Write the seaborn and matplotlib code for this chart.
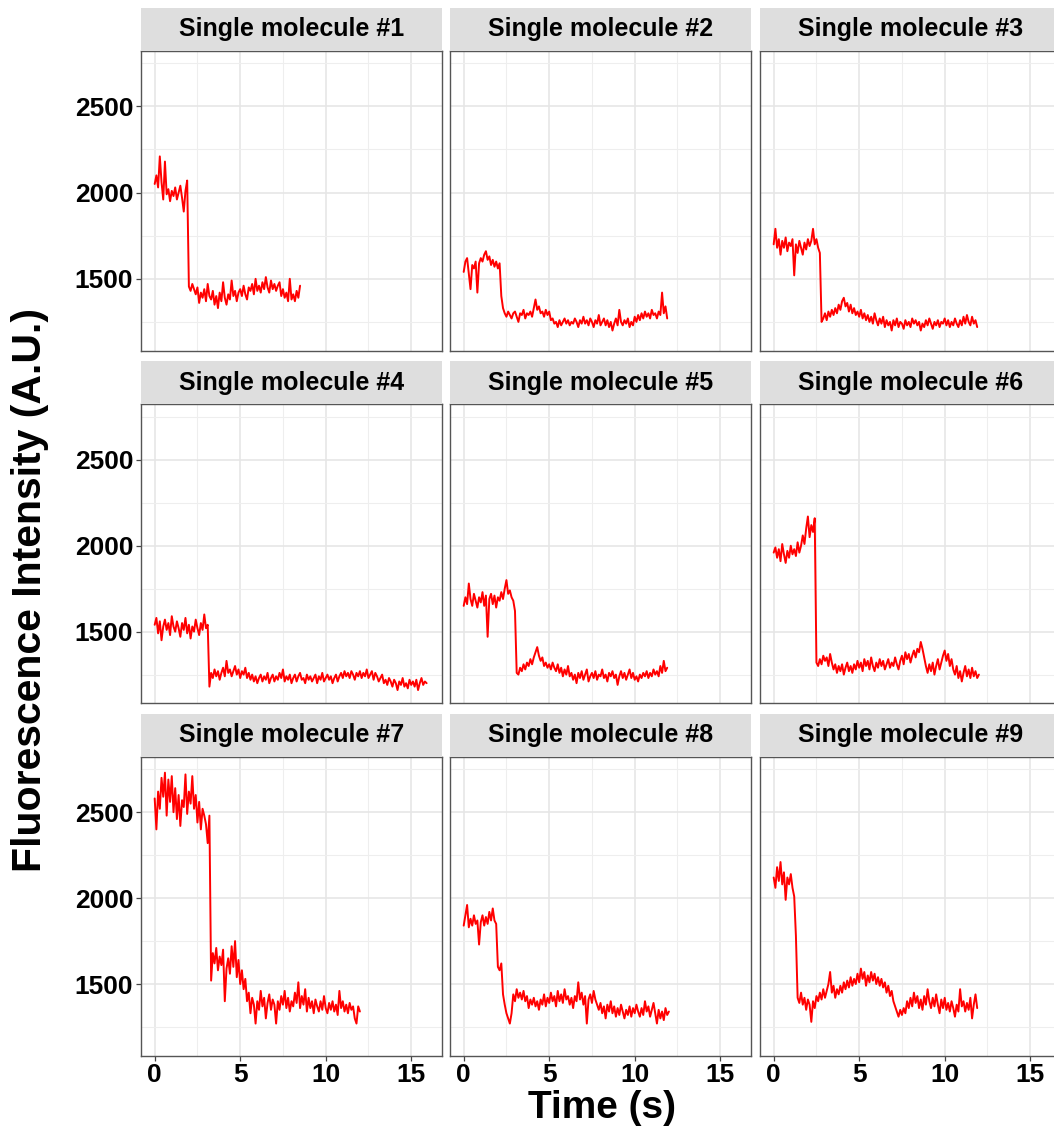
import numpy as np
import pandas as pd
import matplotlib
matplotlib.use("Agg")
import matplotlib.pyplot as plt
from matplotlib.ticker import FixedLocator
import seaborn as sns

# Frame interval of the traces (s)
DT = 0.1

molecule_1 = [2050, 2100, 2030, 2210, 2060, 1960, 2180, 1990, 2020, 1950,
              2010, 1980, 2030, 1960, 2000, 2040, 1970, 1890, 2010, 2070,
              1455, 1430, 1470, 1440, 1410, 1450, 1360, 1420, 1390, 1440,
              1370, 1470, 1400, 1380, 1430, 1350, 1400, 1330, 1420, 1370,
              1480, 1390, 1350, 1410, 1380, 1490, 1400, 1430, 1370, 1420,
              1440, 1400, 1460, 1410, 1380, 1450, 1430, 1470, 1410, 1500,
              1430, 1460, 1420, 1480, 1440, 1510, 1450, 1420, 1490, 1440,
              1470, 1430, 1460, 1480, 1400, 1440, 1390, 1420, 1370, 1500,
              1380, 1410, 1370, 1430, 1390, 1460]

molecule_2 = [1540, 1600, 1620, 1530, 1440, 1580, 1560, 1600, 1420, 1590,
              1620, 1600, 1640, 1660, 1610, 1630, 1580, 1610, 1570, 1600,
              1560, 1590, 1400, 1330, 1300, 1280, 1310, 1290, 1270, 1300,
              1310, 1280, 1250, 1300, 1290, 1320, 1270, 1300, 1290, 1310,
              1280, 1330, 1380, 1320, 1340, 1300, 1310, 1280, 1320, 1290,
              1310, 1260, 1270, 1240, 1250, 1220, 1260, 1230, 1250, 1270,
              1240, 1260, 1230, 1250, 1240, 1270, 1250, 1220, 1260, 1240,
              1280, 1240, 1260, 1230, 1270, 1250, 1220, 1260, 1240, 1290,
              1230, 1250, 1270, 1230, 1260, 1220, 1250, 1200, 1240, 1270,
              1230, 1320, 1250, 1230, 1260, 1240, 1270, 1220, 1250, 1230,
              1280, 1250, 1290, 1260, 1300, 1270, 1310, 1280, 1300, 1270,
              1320, 1290, 1300, 1270, 1310, 1290, 1420, 1300, 1340, 1270]

molecule_3 = [1700, 1790, 1680, 1730, 1640, 1720, 1680, 1740, 1660, 1710,
              1690, 1730, 1520, 1700, 1650, 1720, 1680, 1640, 1710, 1670,
              1730, 1690, 1720, 1790, 1700, 1730, 1680, 1650, 1250, 1270,
              1300, 1260, 1310, 1280, 1320, 1290, 1330, 1300, 1350, 1320,
              1370, 1390, 1340, 1360, 1310, 1350, 1300, 1330, 1290, 1310,
              1280, 1320, 1270, 1300, 1260, 1290, 1250, 1280, 1240, 1300,
              1260, 1230, 1270, 1240, 1280, 1220, 1260, 1230, 1250, 1200,
              1260, 1230, 1270, 1220, 1250, 1240, 1210, 1260, 1230, 1250,
              1220, 1270, 1240, 1260, 1230, 1250, 1200, 1240, 1220, 1260,
              1230, 1270, 1240, 1210, 1250, 1230, 1260, 1220, 1250, 1240,
              1270, 1230, 1260, 1220, 1250, 1230, 1270, 1240, 1220, 1260,
              1230, 1280, 1240, 1290, 1250, 1230, 1280, 1240, 1260, 1220]

molecule_4 = [1540, 1580, 1490, 1560, 1450, 1530, 1570, 1510, 1550, 1480,
              1590, 1530, 1500, 1560, 1520, 1470, 1550, 1510, 1580, 1490,
              1540, 1460, 1530, 1500, 1570, 1520, 1480, 1550, 1510, 1600,
              1520, 1540, 1180, 1260, 1230, 1280, 1240, 1270, 1220, 1260,
              1290, 1240, 1330, 1260, 1280, 1240, 1270, 1300, 1250, 1280,
              1230, 1270, 1250, 1290, 1230, 1260, 1220, 1250, 1210, 1240,
              1200, 1230, 1250, 1210, 1240, 1220, 1260, 1200, 1230, 1250,
              1210, 1240, 1220, 1260, 1230, 1280, 1210, 1240, 1220, 1250,
              1200, 1230, 1250, 1210, 1240, 1260, 1220, 1230, 1200, 1250,
              1220, 1240, 1210, 1230, 1250, 1200, 1240, 1220, 1260, 1210,
              1230, 1250, 1220, 1240, 1200, 1230, 1250, 1210, 1240, 1260,
              1230, 1270, 1240, 1260, 1230, 1270, 1250, 1220, 1260, 1240,
              1270, 1230, 1260, 1240, 1280, 1230, 1250, 1270, 1220, 1260,
              1240, 1210, 1230, 1250, 1200, 1220, 1190, 1230, 1210, 1180,
              1220, 1200, 1160, 1210, 1190, 1230, 1180, 1200, 1170, 1220,
              1190, 1210, 1180, 1220, 1160, 1200, 1230, 1190, 1210, 1200]

molecule_5 = [1650, 1700, 1660, 1780, 1690, 1650, 1720, 1680, 1640, 1700,
              1670, 1730, 1650, 1710, 1470, 1690, 1720, 1660, 1710, 1640,
              1700, 1680, 1730, 1690, 1750, 1800, 1720, 1740, 1700, 1680,
              1620, 1260, 1250, 1290, 1270, 1310, 1280, 1320, 1300, 1340,
              1310, 1350, 1380, 1410, 1360, 1330, 1350, 1300, 1320, 1290,
              1310, 1280, 1320, 1290, 1270, 1310, 1260, 1290, 1240, 1280,
              1250, 1300, 1240, 1260, 1220, 1250, 1200, 1260, 1230, 1270,
              1220, 1250, 1280, 1210, 1240, 1260, 1230, 1270, 1220, 1250,
              1240, 1280, 1230, 1250, 1210, 1260, 1240, 1270, 1230, 1250,
              1190, 1240, 1270, 1230, 1260, 1220, 1250, 1280, 1230, 1260,
              1220, 1240, 1210, 1250, 1230, 1260, 1240, 1270, 1230, 1260,
              1240, 1280, 1250, 1270, 1240, 1300, 1260, 1330, 1270, 1290]

molecule_6 = [1960, 1990, 1930, 1980, 1910, 2010, 1950, 1900, 1970, 1930,
              2000, 1950, 1980, 1940, 2020, 1960, 2000, 2060, 2010, 2100,
              2170, 2050, 2120, 2080, 2160, 1320, 1300, 1340, 1310, 1360,
              1330, 1350, 1300, 1370, 1320, 1280, 1310, 1260, 1300, 1270,
              1310, 1250, 1290, 1320, 1270, 1300, 1260, 1310, 1280, 1330,
              1290, 1320, 1270, 1340, 1300, 1330, 1280, 1350, 1300, 1270,
              1320, 1290, 1340, 1300, 1330, 1280, 1310, 1340, 1290, 1320,
              1300, 1350, 1310, 1280, 1330, 1360, 1310, 1380, 1340, 1370,
              1320, 1360, 1390, 1350, 1400, 1380, 1440, 1400, 1350, 1300,
              1260, 1310, 1270, 1320, 1250, 1300, 1340, 1280, 1320, 1360,
              1390, 1330, 1370, 1300, 1340, 1280, 1250, 1300, 1230, 1270,
              1210, 1260, 1300, 1240, 1280, 1230, 1290, 1240, 1270, 1230,
              1250]

molecule_7 = [2580, 2400, 2620, 2520, 2700, 2590, 2730, 2480, 2690, 2560,
              2710, 2500, 2640, 2460, 2600, 2420, 2570, 2530, 2720, 2490,
              2620, 2550, 2710, 2520, 2600, 2440, 2560, 2400, 2520, 2480,
              2430, 2320, 2480, 1520, 1680, 1620, 1710, 1580, 1660, 1610,
              1700, 1400, 1590, 1650, 1560, 1720, 1600, 1750, 1540, 1640,
              1500, 1580, 1470, 1530, 1400, 1450, 1330, 1420, 1380, 1270,
              1400, 1350, 1460, 1370, 1420, 1300, 1390, 1440, 1350, 1410,
              1380, 1270, 1400, 1350, 1430, 1380, 1460, 1360, 1420, 1340,
              1400, 1370, 1450, 1390, 1510, 1360, 1430, 1380, 1470, 1340,
              1420, 1360, 1400, 1330, 1410, 1370, 1340, 1400, 1350, 1430,
              1360, 1330, 1390, 1350, 1400, 1340, 1380, 1320, 1460, 1360,
              1400, 1340, 1380, 1330, 1390, 1350, 1370, 1300, 1270, 1370,
              1340]

molecule_8 = [1840, 1900, 1960, 1830, 1880, 1840, 1900, 1850, 1870, 1730,
              1860, 1900, 1840, 1890, 1850, 1920, 1870, 1940, 1870, 1850,
              1600, 1580, 1620, 1440, 1380, 1330, 1300, 1270, 1330, 1440,
              1400, 1470, 1420, 1450, 1410, 1460, 1400, 1430, 1360, 1410,
              1380, 1420, 1370, 1400, 1350, 1410, 1380, 1440, 1370, 1420,
              1390, 1450, 1400, 1430, 1370, 1460, 1400, 1440, 1390, 1470,
              1410, 1430, 1380, 1420, 1360, 1430, 1400, 1510, 1410, 1450,
              1380, 1430, 1270, 1410, 1440, 1390, 1460, 1410, 1380, 1350,
              1390, 1330, 1370, 1300, 1380, 1340, 1400, 1330, 1370, 1310,
              1360, 1320, 1380, 1340, 1300, 1350, 1320, 1370, 1310, 1360,
              1330, 1380, 1340, 1310, 1360, 1320, 1400, 1340, 1370, 1310,
              1350, 1390, 1330, 1270, 1350, 1300, 1340, 1290, 1360, 1320,
              1340]

molecule_9 = [2120, 2060, 2180, 2100, 2210, 2080, 2150, 1990, 2120, 2080,
              2140, 2060, 2010, 1780, 1420, 1390, 1450, 1380, 1420, 1350,
              1410, 1380, 1280, 1400, 1360, 1430, 1400, 1450, 1410, 1470,
              1420, 1460, 1500, 1570, 1450, 1490, 1420, 1470, 1440, 1490,
              1450, 1510, 1470, 1520, 1480, 1540, 1490, 1530, 1500, 1560,
              1510, 1590, 1530, 1570, 1490, 1550, 1510, 1570, 1520, 1560,
              1500, 1540, 1490, 1530, 1480, 1510, 1450, 1490, 1430, 1460,
              1400, 1370, 1340, 1310, 1350, 1320, 1360, 1330, 1400, 1360,
              1420, 1370, 1450, 1390, 1430, 1360, 1410, 1350, 1430, 1380,
              1470, 1400, 1360, 1420, 1370, 1440, 1380, 1330, 1410, 1360,
              1420, 1350, 1390, 1340, 1400, 1360, 1310, 1380, 1340, 1470,
              1370, 1400, 1340, 1390, 1350, 1420, 1300, 1380, 1440, 1360]

traces = [molecule_1, molecule_2, molecule_3, molecule_4, molecule_5,
          molecule_6, molecule_7, molecule_8, molecule_9]
panel_titles = [f"Single molecule #{i}" for i in range(1, 10)]
x_major = [0, 5, 10, 15]
x_minor = [2.5, 7.5, 12.5]
y_major = [1500, 2000, 2500]
y_minor = [1250, 1750, 2250, 2750]

# Long-format table: one row per frame
frames = []
for title, values in zip(panel_titles, traces):
    frames.append(pd.DataFrame({
        "molecule": title,
        "time": np.arange(len(values)) * DT,
        "intensity": values,
    }))
df = pd.concat(frames, ignore_index=True)

sns.set_theme(style="white")
plt.rcParams["font.family"] = ["Liberation Sans", "DejaVu Sans"]
plt.rcParams["text.color"] = "black"

W, H = 1054, 1135
fig = plt.figure(figsize=(W / 100, H / 100), dpi=100)

col_px = [(141, 442), (450, 751), (760, 1061)]
row_px = [(50.7, 350.7), (404.3, 703.3), (756.7, 1055.7)]
strip_h = 43

for k, title in enumerate(panel_titles):
    r, c = divmod(k, 3)
    (x0, x1), (y0, y1) = col_px[c], row_px[r]
    ax = fig.add_axes([x0 / W, 1 - y1 / H, (x1 - x0) / W, (y1 - y0) / H])
    ax.set_facecolor("white")

    sub = df[df["molecule"] == title]
    sns.lineplot(data=sub, x="time", y="intensity", ax=ax, color="#FF0000",
                 linewidth=1.4, estimator=None, sort=False, zorder=3)

    ax.set_xlim(-0.8, 16.8)
    ax.set_ylim(1083, 2823)
    ax.xaxis.set_major_locator(FixedLocator(x_major))
    ax.xaxis.set_minor_locator(FixedLocator(x_minor))
    ax.yaxis.set_major_locator(FixedLocator(y_major))
    ax.yaxis.set_minor_locator(FixedLocator(y_minor))
    ax.grid(which="major", color="#E6E6E6", linewidth=1.2, zorder=0)
    ax.grid(which="minor", color="#EEEEEE", linewidth=0.8, zorder=0)
    ax.set_axisbelow(True)
    ax.set_xlabel("")
    ax.set_ylabel("")

    for sp in ax.spines.values():
        sp.set_visible(True)
        sp.set_color("#555555")
        sp.set_linewidth(1.0)

    ax.tick_params(which="minor", length=0)
    ax.tick_params(which="major", length=3.5, width=0.9, color="#444444",
                   labelsize=19, pad=2, bottom=(r == 2), left=(c == 0),
                   labelbottom=(r == 2), labelleft=(c == 0),
                   labelcolor="black")
    for lab in ax.get_xticklabels() + ax.get_yticklabels():
        lab.set_fontweight("bold")

    # facet strip
    sx = fig.add_axes([x0 / W, 1 - y0 / H, (x1 - x0) / W, strip_h / H])
    sx.set_facecolor("#DEDEDE")
    sx.set_xticks([])
    sx.set_yticks([])
    for sp in sx.spines.values():
        sp.set_visible(False)
    sx.text(0.5, 0.5, title, transform=sx.transAxes, ha="center",
            va="center", fontsize=18, fontweight="bold", color="black")

fig.text(30 / W, 1 - 590 / H, "Fluorescence Intensity (A.U.)", rotation=90,
         ha="center", va="center", fontsize=29.5, fontweight="bold",
         color="black")
fig.text(602 / W, 1 - 1108 / H, "Time (s)", ha="center", va="center",
         fontsize=28, fontweight="bold", color="black")

fig.savefig("out.png", dpi=100, facecolor="white")
